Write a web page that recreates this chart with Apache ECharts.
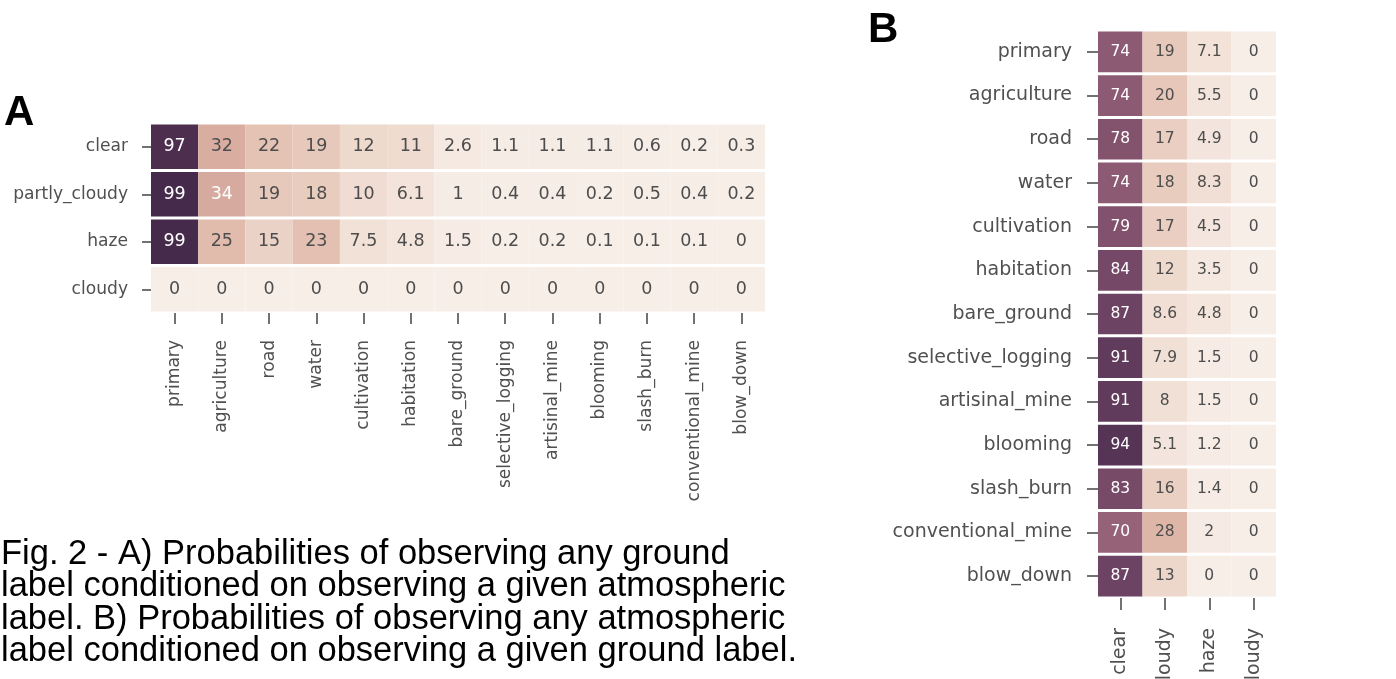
<!DOCTYPE html>
<html>
<head>
<meta charset="utf-8">
<script src="https://cdn.jsdelivr.net/npm/echarts@6/dist/echarts.min.js"></script>
<style>
html,body{margin:0;padding:0;background:#fff;}
#chart{width:1396px;height:679px;}
</style>
</head>
<body>
<div id="chart"></div>
<script>
// ---------- data ----------
const atmosLabels = ['clear', 'partly_cloudy', 'haze', 'cloudy'];
const groundLabels = ['primary', 'agriculture', 'road', 'water', 'cultivation', 'habitation',
  'bare_ground', 'selective_logging', 'artisinal_mine', 'blooming', 'slash_burn',
  'conventional_mine', 'blow_down'];

// Panel A: rows = atmospheric label, columns = ground label
const A_clear        = [97, 32, 22, 19, 12, 11, 2.6, 1.1, 1.1, 1.1, 0.6, 0.2, 0.3];
const A_partlyCloudy = [99, 34, 19, 18, 10, 6.1, 1, 0.4, 0.4, 0.2, 0.5, 0.4, 0.2];
const A_haze         = [99, 25, 15, 23, 7.5, 4.8, 1.5, 0.2, 0.2, 0.1, 0.1, 0.1, 0];
const A_cloudy       = [0, 0, 0, 0, 0, 0, 0, 0, 0, 0, 0, 0, 0];

// Panel B: rows = ground label, columns = atmospheric label
const B_primary          = [74, 19, 7.1, 0];
const B_agriculture      = [74, 20, 5.5, 0];
const B_road             = [78, 17, 4.9, 0];
const B_water            = [74, 18, 8.3, 0];
const B_cultivation      = [79, 17, 4.5, 0];
const B_habitation       = [84, 12, 3.5, 0];
const B_bareGround       = [87, 8.6, 4.8, 0];
const B_selectiveLogging = [91, 7.9, 1.5, 0];
const B_artisinalMine    = [91, 8, 1.5, 0];
const B_blooming         = [94, 5.1, 1.2, 0];
const B_slashBurn        = [83, 16, 1.4, 0];
const B_conventionalMine = [70, 28, 2, 0];
const B_blowDown         = [87, 13, 0, 0];

const captionLines = [
  'Fig. 2 - A) Probabilities of observing any ground',
  'label conditioned on observing a given atmospheric',
  'label. B) Probabilities of observing any atmospheric',
  'label conditioned on observing a given ground label.'
];

// ---------- build ----------
const A_rows = [A_clear, A_partlyCloudy, A_haze, A_cloudy];
const B_rows = [B_primary, B_agriculture, B_road, B_water, B_cultivation, B_habitation,
  B_bareGround, B_selectiveLogging, B_artisinalMine, B_blooming, B_slashBurn,
  B_conventionalMine, B_blowDown];

function toCells(rows) {
  const out = [];
  rows.forEach((r, yi) => r.forEach((v, xi) => out.push([xi, yi, v])));
  return out;
}

const LABEL_FONT = 'DejaVu Sans';
const LABEL_COLOR = '#505050';

function makeRender(fontSize) {
  return function (params, api) {
    const xi = api.value(0), yi = api.value(1), v = api.value(2);
    const c = api.coord([xi, yi]);
    const s = api.size([1, 1]);
    const gap = 3;
    return {
      type: 'group',
      children: [
        {
          type: 'rect',
          shape: { x: c[0] - s[0] / 2, y: c[1] - s[1] / 2 + gap / 2, width: s[0], height: s[1] - gap },
          style: { fill: api.visual('color') }
        },
        {
          type: 'text',
          x: c[0], y: c[1],
          style: {
            text: String(v),
            fill: v > 33 ? '#ffffff' : '#4d4d4d',
            fontSize: fontSize,
            fontFamily: LABEL_FONT,
            align: 'center',
            verticalAlign: 'middle'
          }
        }
      ]
    };
  };
}

const tickStyle = { color: '#444', width: 1.5 };

const option = {
  backgroundColor: '#ffffff',
  animation: false,
  grid: [
    { left: 151, top: 123, width: 614, height: 190, containLabel: false, outerBoundsMode: 'none' },
    { left: 1098, top: 30, width: 178, height: 568, containLabel: false, outerBoundsMode: 'none' }
  ],
  xAxis: [
    {
      gridIndex: 0, type: 'category', data: groundLabels, position: 'bottom',
      axisLine: { show: false },
      axisTick: { show: true, alignWithLabel: true, length: 11, lineStyle: tickStyle },
      axisLabel: { rotate: 90, margin: 27, fontSize: 17.1, fontFamily: LABEL_FONT, color: LABEL_COLOR, interval: 0 },
      splitLine: { show: false }
    },
    {
      gridIndex: 1, type: 'category', data: atmosLabels, position: 'bottom',
      axisLine: { show: false },
      axisTick: { show: true, alignWithLabel: true, length: 12, lineStyle: tickStyle },
      axisLabel: { rotate: 90, margin: 30, fontSize: 19, fontFamily: LABEL_FONT, color: LABEL_COLOR, interval: 0 },
      splitLine: { show: false }
    }
  ],
  yAxis: [
    {
      gridIndex: 0, type: 'category', data: atmosLabels, inverse: true,
      axisLine: { show: false },
      axisTick: { show: true, alignWithLabel: true, length: 9, lineStyle: tickStyle },
      axisLabel: { margin: 23, fontSize: 17.1, fontFamily: LABEL_FONT, color: LABEL_COLOR, interval: 0 },
      splitLine: { show: false }
    },
    {
      gridIndex: 1, type: 'category', data: groundLabels, inverse: true,
      axisLine: { show: false },
      axisTick: { show: true, alignWithLabel: true, length: 11, lineStyle: tickStyle },
      axisLabel: { margin: 26, fontSize: 19, fontFamily: LABEL_FONT, color: LABEL_COLOR, interval: 0 },
      splitLine: { show: false }
    }
  ],
  visualMap: {
    type: 'continuous', show: false, min: 0, max: 100, dimension: 2, seriesIndex: [0, 1],
    inRange: {
      color: ['#f7eee8', '#eed8cc', '#e1bcad', '#d2a398', '#bd8a8b', '#a6717f', '#8b5872', '#6b4262', '#432849']
    }
  },
  series: [
    {
      type: 'custom', xAxisIndex: 0, yAxisIndex: 0,
      renderItem: makeRender(17.5), data: toCells(A_rows), encode: { x: 0, y: 1 }
    },
    {
      type: 'custom', xAxisIndex: 1, yAxisIndex: 1,
      renderItem: makeRender(15.5), data: toCells(B_rows), encode: { x: 0, y: 1 }
    }
  ],
  graphic: [
    { type: 'text', left: 4, top: 92, style: { text: 'A', font: 'bold 42px "Liberation Sans"', fill: '#000' } },
    { type: 'text', left: 868, top: 9, style: { text: 'B', font: 'bold 42px "Liberation Sans"', fill: '#000' } }
  ].concat(captionLines.map((t, i) => ({
    type: 'text', x: 1, y: 554 + i * 32.6,
    style: { text: t, font: '34.5px "Liberation Sans"', fill: '#000', verticalAlign: 'middle' }
  })))
};

const chart = echarts.init(document.getElementById('chart'), null, { renderer: 'canvas' });
chart.setOption(option);
</script>
</body>
</html>
